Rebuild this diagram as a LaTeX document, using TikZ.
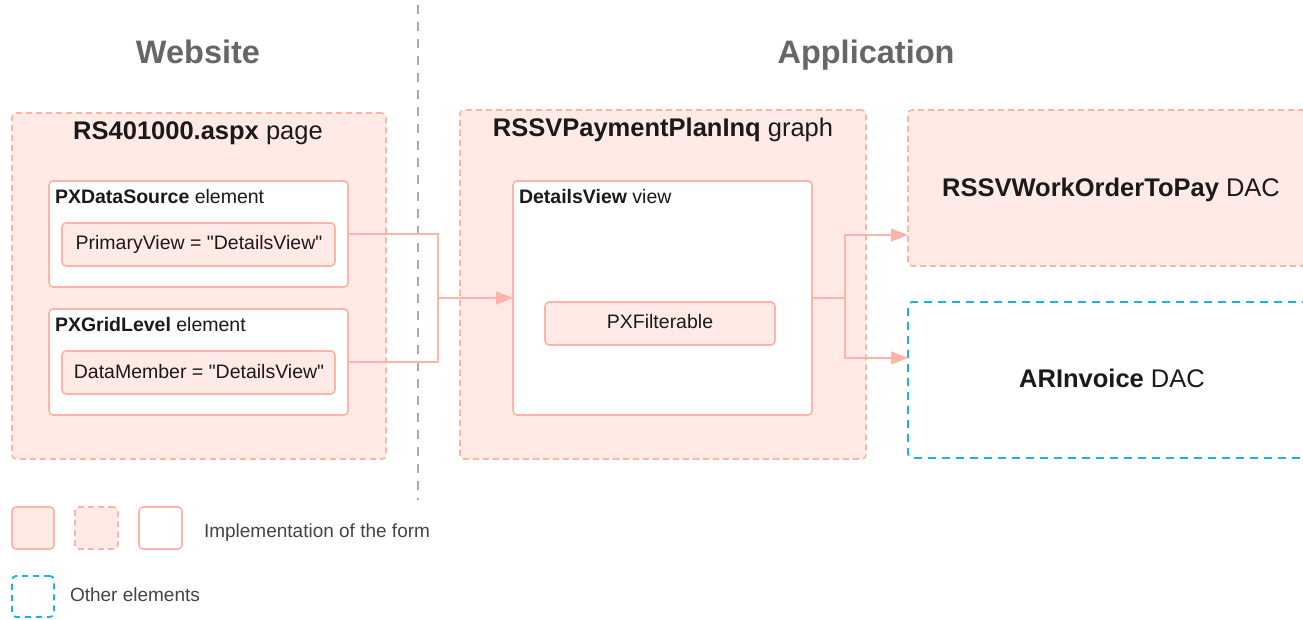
\documentclass[tikz,border=0pt]{standalone}
\usepackage{fontspec}
\setmainfont{Liberation Sans}
\newfontfamily\qfont{Liberation Sans}
\usetikzlibrary{arrows.meta}
\definecolor{pinkline}{HTML}{FFB4A8}
\definecolor{pinkfill}{HTML}{FFEAE5}
\definecolor{blueline}{HTML}{1EB0EE}
\definecolor{divgray}{HTML}{AAAAAA}
\definecolor{headgray}{HTML}{666666}
\definecolor{txt}{HTML}{1A1A1A}
\definecolor{legtxt}{HTML}{444444}
\newcommand{\dq}{{\qfont\symbol{34}}}
\tikzset{
  every node/.style={inner sep=0pt, outer sep=0pt, text=txt},
  pinkdash/.style={draw=pinkline, fill=pinkfill, line width=1.6pt, dash pattern=on 6pt off 4pt, rounded corners=4pt, anchor=north west},
  whitebox/.style={draw=pinkline, fill=white, line width=1.6pt, rounded corners=4pt, anchor=north west},
  pinkbox/.style={draw=pinkline, fill=pinkfill, line width=1.6pt, rounded corners=4pt, anchor=north west},
  bluedash/.style={draw=blueline, fill=white, line width=1.8pt, dash pattern=on 8pt off 6pt, rounded corners=4pt, anchor=north west},
  head/.style={font=\fontsize{32.5}{38}\selectfont\bfseries, text=headgray, anchor=base},
  title/.style={font=\fontsize{25.5}{30}\selectfont, anchor=base},
  label/.style={font=\fontsize{19.5}{23}\selectfont, anchor=base},
  leg/.style={font=\fontsize{19}{22}\selectfont, text=legtxt, anchor=base west},
  conn/.style={draw=pinkline, line width=1.6pt},
  tip/.style={-{Triangle[length=17pt,width=13pt]}},
}
\begin{document}
\begin{tikzpicture}[x=1pt,y=-1pt]
\useasboundingbox (0,0) rectangle (1303,619);
\clip (0,0) rectangle (1303,619);

% divider
\draw[divgray, line width=2.5pt, dash pattern=on 9pt off 8pt] (418,5) -- (418,500);

\node[head] (hweb) at (198,63) {Website};
\node[head] (happ) at (866,63) {Application};

% page
\node[pinkdash, minimum width=374pt, minimum height=346pt] (page) at (12,113) {};
\node[title] (pagetitle) at (198,139) {\textbf{RS401000.aspx} page};
\node[whitebox, minimum width=299pt, minimum height=106pt] (pxds) at (49,181) {};
\node[label, anchor=base west] (pxdst) at (55,203) {\textbf{PXDataSource} element};
\node[pinkbox, minimum width=273pt, minimum height=43pt] (pv) at (62,223) {};
\node[label] (pvt) at (199,249) {PrimaryView = \dq DetailsView\dq};
\node[whitebox, minimum width=299pt, minimum height=106pt] (pxgl) at (49,309) {};
\node[label, anchor=base west] (pxglt) at (55,331) {\textbf{PXGridLevel} element};
\node[pinkbox, minimum width=273pt, minimum height=43pt] (dm) at (62,351) {};
\node[label] (dmt) at (199,378) {DataMember = \dq DetailsView\dq};

% graph
\node[pinkdash, minimum width=406pt, minimum height=349pt] (graph) at (460,110) {};
\node[title] (graphtitle) at (663,136) {\textbf{RSSVPaymentPlanInq} graph};
\node[whitebox, minimum width=299pt, minimum height=234pt] (dv) at (513,181) {};
\node[label, anchor=base west] (dvt) at (519,203) {\textbf{DetailsView} view};
\node[pinkbox, minimum width=230pt, minimum height=43pt] (pxf) at (545,302) {};
\node[label] (pxft) at (660,328) {PXFilterable};

% DACs
\node[pinkdash, minimum width=420pt, minimum height=156pt] (rsw) at (908,110) {};
\node[title] (rswt) at (1111,196) {\textbf{RSSVWorkOrderToPay} DAC};
\node[bluedash, minimum width=420pt, minimum height=156pt] (ari) at (908,302) {};
\node[title] (arit) at (1112,387) {\textbf{ARInvoice} DAC};

% connectors
\coordinate (j1) at (438,298);
\coordinate (j2) at (845,298);
\coordinate (a1) at (900,235);
\coordinate (a2) at (900,358);
\draw[conn, tip] (pxds.east) -| (j1) -- (dv.west);
\draw[conn] (pxgl.east) -| (j1);
\draw[conn] (dv.east) -- (j2);
\draw[conn, tip] (j2) |- (rsw.west |- a1);
\draw[conn, tip] (j2) |- (ari.west |- a2);

% legend
\node[pinkbox, minimum width=42pt, minimum height=42pt] (l1) at (12,507) {};
\node[pinkdash, minimum width=43pt, minimum height=42pt] (l2) at (75,507) {};
\node[whitebox, minimum width=43pt, minimum height=42pt] (l3) at (139,507) {};
\node[leg] (lt1) at (204,537) {Implementation of the form};
\node[bluedash, dash pattern=on 6pt off 5pt, minimum width=42pt, minimum height=41pt] (l4) at (12,576) {};
\node[leg] (lt2) at (70,601) {Other elements};
\end{tikzpicture}
\end{document}
